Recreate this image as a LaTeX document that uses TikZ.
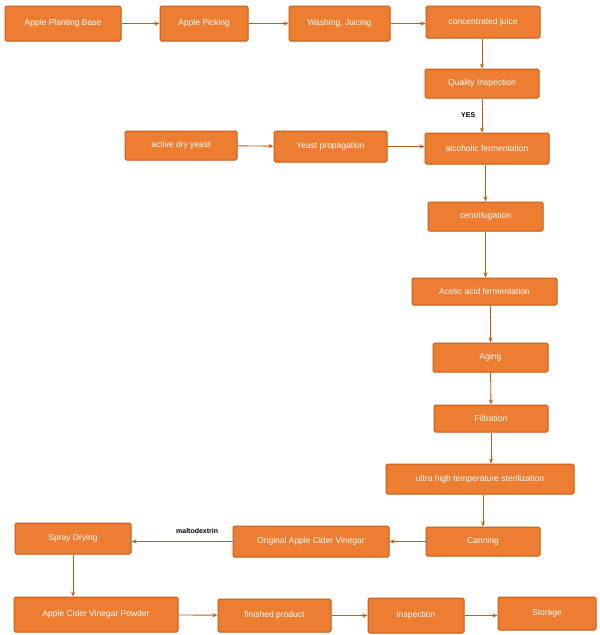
\documentclass[tikz,border=0pt]{standalone}
\usepackage{fontspec}
\setmainfont{Liberation Sans}
\usetikzlibrary{arrows.meta}
\definecolor{boxfill}{HTML}{ED7D31}
\definecolor{boxdraw}{HTML}{C55A11}
\begin{document}
\begin{tikzpicture}[x=1pt,y=-1pt,
  box/.style={draw=boxdraw,fill=boxfill,line width=1pt,rounded corners=1.5pt,text=white,font=\fontsize{8.5}{10}\selectfont,inner sep=0pt},
  arr/.style={draw=boxdraw,line width=0.9pt,-{Stealth[length=5pt,width=4pt]}},
  lab/.style={font=\bfseries\fontsize{7}{8}\selectfont,text=black}]
\useasboundingbox (0,0) rectangle (600,635);
\newcommand{\bx}[6]{\node[box,minimum width=#4-#2,minimum height=#5-#3] (#1) at ({(#2+#4)/2},{(#3+#5)/2}) {#6};}
\bx{a}{5}{6}{121}{41}{Apple Planting Base}
\bx{b}{160}{6}{248}{41}{Apple Picking}
\bx{c}{289}{6}{390}{41}{Washing, Juicing}
\bx{d}{426}{6}{540}{38}{concentrated juice}
\bx{e}{425}{69}{539}{98}{Quality Inspection}
\bx{f}{125}{131}{237}{160}{active dry yeast}
\bx{g}{274}{131}{387}{162}{Yeast propagation}
\bx{h}{425}{133}{549}{164}{alcoholic fermentation}
\bx{i}{428}{202}{543}{231}{centrifugation}
\bx{j}{412}{278}{557}{305}{Acetic acid fermentation}
\bx{k}{433}{343}{548}{372}{Aging}
\bx{l}{434}{405}{548}{432}{Filtration}
\bx{m}{386}{464}{574}{494}{ultra high temperature sterilization}
\bx{n}{426}{527}{540}{556}{Canning}
\bx{o}{233}{526}{389}{557}{Original Apple Cider Vinegar}
\bx{p}{15}{523}{131}{554}{Spray Drying}
\bx{q}{14}{597}{178}{632}{Apple Cider Vinegar Powder}
\bx{r}{218}{599}{331}{632}{finished product}
\bx{s}{368}{598}{464}{633}{Inspection}
\bx{t}{498}{597}{596}{630}{Storage}
\draw[arr] (a) -- (b);
\draw[arr] (b) -- (c);
\draw[arr] (c) -- (c -| d.west);
\draw[arr] (d.south -| e) -- (e);
\draw[arr] (e.south) -- (e.south |- h.north) node[pos=0.5,left,lab,xshift=-3pt] {YES};
\draw[arr] (f) -- (g);
\draw[arr] (g) -- (g -| h.west);
\draw[arr] (h.south -| i) -- (i);
\draw[arr] (i) -- (i |- j.north);
\draw[arr] (j.south -| k) -- (k);
\draw[arr] (k) -- (l);
\draw[arr] (l) -- (l |- m.north);
\draw[arr] (m.south -| n) -- (n);
\draw[arr] (n) -- (n -| o.east);
\draw[arr] (o.west) -- (o.west -| p.east) node[pos=0.35,above=4pt,lab] {maltodextrin};
\draw[arr] (p.south -| 73,0) -- (q.north -| 73,0);
\draw[arr] (q) -- (r);
\draw[arr] (r) -- (r -| s.west);
\draw[arr] (s) -- (s -| t.west);
\end{tikzpicture}
\end{document}
